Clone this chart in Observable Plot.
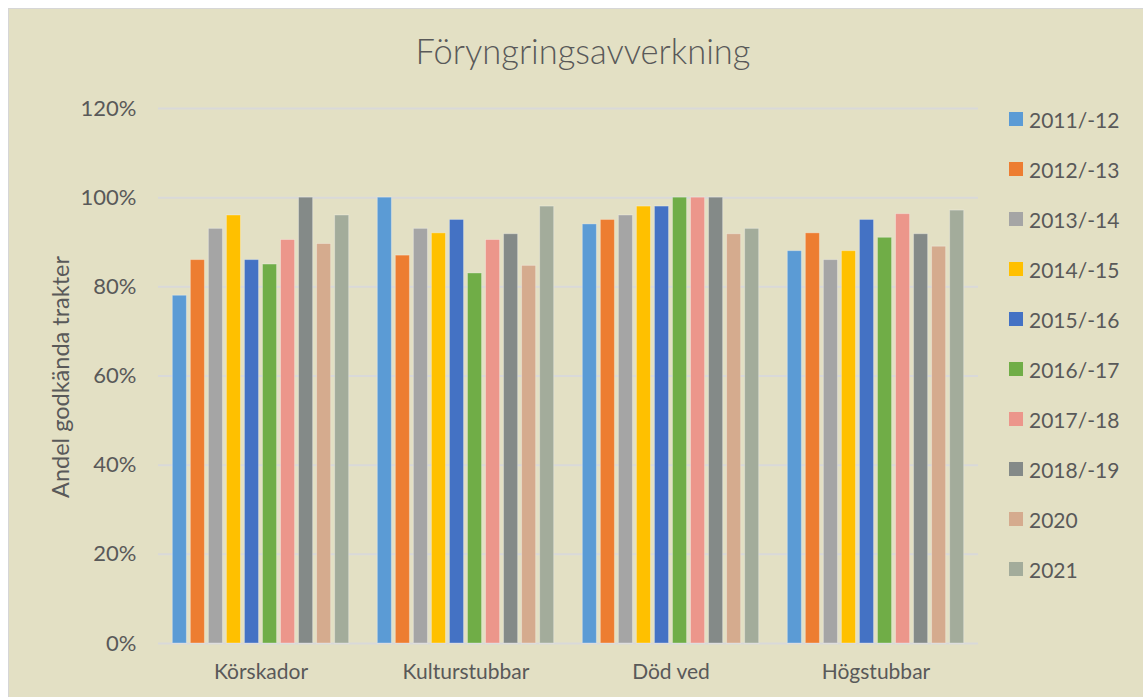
<!DOCTYPE html>
<html>
<head>
<meta charset="utf-8">
<script src="https://cdn.jsdelivr.net/npm/d3@7"></script>
<script src="https://cdn.jsdelivr.net/npm/@observablehq/plot@0.6"></script>
<style>
  html, body { margin: 0; padding: 0; background: #ffffff; overflow: hidden; }
  #wrap { position: relative; width: 1143px; height: 697px; font-family: Lato, "Open Sans", sans-serif; color: #595959; }
  #bg { position: absolute; left: 8px; top: 8px; width: 1145px; height: 700px; background: #E3E0C4; border: 1.5px solid #d6d6d6; }
  .layer { position: absolute; left: 0; top: 0; }
  #title { position: absolute; left: 0; width: 1166px; top: 30px; text-align: center; font-size: 34.5px; font-weight: 300; color: #595959; }
  #ylabel { position: absolute; left: 60px; top: 377px; transform: translate(-50%, -50%) rotate(-90deg); white-space: nowrap; font-size: 23.5px; color: #595959; }
  #legend { position: absolute; left: 1009px; top: 0; }
  .item { position: absolute; left: 0; display: flex; align-items: center; white-space: nowrap; font-size: 21px; color: #595959; }
  .sw { width: 14px; height: 14px; margin-right: 6px; }
</style>
</head>
<body>
<div id="wrap">
  <div id="bg"></div>
  <div id="title">Föryngringsavverkning</div>
  <div id="ylabel">Andel godkända trakter</div>
  <div id="legend"></div>
</div>
<script>
const categories = ["Körskador", "Kulturstubbar", "Död ved", "Högstubbar"];
const seasons = ["2011/-12", "2012/-13", "2013/-14", "2014/-15", "2015/-16", "2016/-17", "2017/-18", "2018/-19", "2020", "2021"];
const colors = ["#5B9BD5", "#ED7D31", "#A5A5A5", "#FFC000", "#4472C4", "#70AD47", "#EC968B", "#848A88", "#D5AB8E", "#A3AC9B"];
const yTicks = [0, 0.2, 0.4, 0.6, 0.8, 1.0, 1.2];

// values per season, in category order
const v2011 = [0.78, 1.00, 0.94, 0.88];
const v2012 = [0.86, 0.87, 0.95, 0.92];
const v2013 = [0.93, 0.93, 0.96, 0.86];
const v2014 = [0.96, 0.92, 0.98, 0.88];
const v2015 = [0.86, 0.95, 0.98, 0.95];
const v2016 = [0.85, 0.83, 1.00, 0.91];
const v2017 = [0.905, 0.905, 1.00, 0.963];
const v2018 = [1.00, 0.918, 1.00, 0.918];
const v2020 = [0.896, 0.847, 0.918, 0.89];
const v2021 = [0.96, 0.98, 0.93, 0.971];
const seriesValues = [v2011, v2012, v2013, v2014, v2015, v2016, v2017, v2018, v2020, v2021];

const rows = [];
seasons.forEach((s, i) => categories.forEach((c, j) => rows.push({cat: c, season: s, value: seriesValues[i][j]})));

const W = 1143, H = 697;
const M = {marginLeft: 158, marginRight: 165, marginTop: 108, marginBottom: 54};
const fmt = d3.format(".0%");

// base layer: gridlines + y axis
const base = Plot.plot({
  width: W, height: H, ...M,
  style: {background: "transparent", color: "#595959", fontFamily: "Lato, 'Open Sans', sans-serif", fontSize: "22px"},
  y: {domain: [0, 1.2], ticks: yTicks, tickFormat: fmt, tickSize: 0, tickPadding: 22, label: null},
  marks: [
    Plot.ruleY(yTicks, {stroke: "#d9d9d9", strokeWidth: 2})
  ]
});
base.classList.add("layer");
document.getElementById("wrap").appendChild(base);

// bars layer
const bars = Plot.plot({
  width: W, height: H, ...M,
  style: {background: "transparent", color: "#595959", fontFamily: "Lato, 'Open Sans', sans-serif", fontSize: "21px"},
  facet: {data: rows, x: "cat", marginTop: 0, marginBottom: 0, marginLeft: 0, marginRight: 0},
  fx: {domain: categories, paddingInner: 0.13, paddingOuter: 0.065, round: false, axis: "bottom", label: null, tickSize: 0, tickPadding: 21},
  x: {domain: seasons, paddingInner: 0.22, paddingOuter: 0.055, round: false, axis: null},
  y: {domain: [0, 1.2], axis: null},
  color: {domain: seasons, range: colors},
  marks: [
    Plot.barY(rows, {x: "season", y: "value", fill: "season", stroke: "rgba(255,255,255,0.3)", strokeWidth: 1})
  ]
});
bars.classList.add("layer");
document.getElementById("wrap").appendChild(bars);

// legend
const legend = document.getElementById("legend");
seasons.forEach((s, i) => {
  const d = document.createElement("div");
  d.className = "item";
  d.style.top = (119 + 50 * i - 14) + "px";
  d.style.height = "28px";
  const sw = document.createElement("span");
  sw.className = "sw";
  sw.style.background = colors[i];
  const t = document.createElement("span");
  t.textContent = s;
  d.appendChild(sw); d.appendChild(t);
  legend.appendChild(d);
});
</script>
</body>
</html>
